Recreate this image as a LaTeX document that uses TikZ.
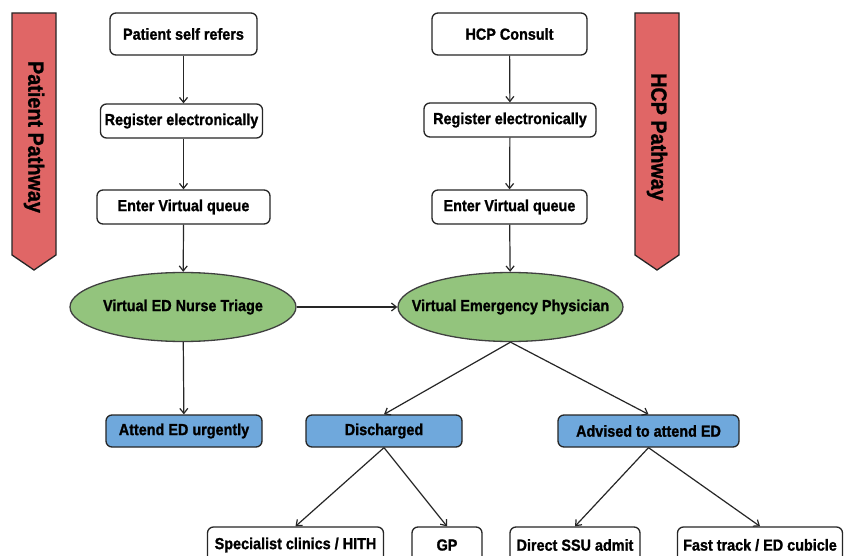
\documentclass[tikz,border=0pt]{standalone}
\usepackage{fontspec}
\setmainfont{Liberation Sans}
\newfontfamily\diafont{Liberation Sans Bold}[FakeStretch=0.9,FakeBold=1.2]
\usetikzlibrary{arrows.meta,shapes.geometric}
\definecolor{bannerred}{HTML}{E06666}
\definecolor{ovalgreen}{HTML}{93C47D}
\definecolor{boxblue}{HTML}{6FA8DC}
\tikzset{
  whitebox/.style={draw=black!85, line width=1.3pt, rounded corners=6pt, fill=white, inner sep=0pt, font=\diafont\fontsize{16}{18}\selectfont},
  bluebox/.style={whitebox, fill=boxblue},
  oval/.style={ellipse, draw=black!75, line width=1.3pt, fill=ovalgreen, inner sep=0pt, font=\diafont\fontsize{16}{18}\selectfont},
  banner/.style={draw=black!85, line width=1.3pt, fill=bannerred},
  bannertext/.style={rotate=-90, font=\diafont\fontsize{22}{24}\selectfont},
  conn/.style={draw=black!85, line width=1.2pt, -{Straight Barb[length=5pt,width=8pt,line width=1.2pt]}}
}
\begin{document}
\begin{tikzpicture}[x=1pt, y=-1pt]
\useasboundingbox (0,0) rectangle (844,556);
\fill[white] (0,0) rectangle (844,556);
% banners
\draw[banner] (12,13) -- (56,13) -- (56,255) -- (34,270) -- (12,255) -- cycle;
\node[bannertext] (lbanner) at (34,137) {Patient Pathway};
\draw[banner] (635,13) -- (679,13) -- (679,255) -- (657,270) -- (635,255) -- cycle;
\node[bannertext] (rbanner) at (657,137) {HCP Pathway};
% left column
\node[whitebox, minimum width=147pt, minimum height=42pt] (ps) at (183.5,34) {Patient self refers};
\node[whitebox, minimum width=162pt, minimum height=34pt] (reg1) at (181.5,121) {Register electronically};
\node[whitebox, minimum width=173pt, minimum height=34pt] (q1) at (183.5,207) {Enter Virtual queue};
% right column
\node[whitebox, minimum width=155pt, minimum height=42pt] (hcp) at (509.5,34) {HCP Consult};
\node[whitebox, minimum width=172pt, minimum height=34pt] (reg2) at (510,120) {Register electronically};
\node[whitebox, minimum width=155pt, minimum height=34pt] (q2) at (509.5,207) {Enter Virtual queue};
% ovals
\node[oval, minimum width=226pt, minimum height=69pt] (nurse) at (183,307) {\makebox[0pt]{Virtual ED Nurse Triage}};
\node[oval, minimum width=225pt, minimum height=69pt] (phys) at (510.5,307) {\makebox[0pt]{Virtual Emergency Physician}};
% blue boxes
\node[bluebox, minimum width=156pt, minimum height=32pt] (att) at (184,431) {Attend ED urgently};
\node[bluebox, minimum width=156pt, minimum height=32pt] (dis) at (384,431) {Discharged};
\node[bluebox, minimum width=181pt, minimum height=32pt] (adv) at (648.5,431) {Advised to attend ED};
% bottom boxes
\node[whitebox, minimum width=176pt, minimum height=36pt] (spec) at (295.5,545) {Specialist clinics / HITH};
\node[whitebox, minimum width=70pt, minimum height=36pt] (gp) at (447,545) {GP};
\node[whitebox, minimum width=130pt, minimum height=36pt] (ssu) at (575,545) {Direct SSU admit};
\node[whitebox, minimum width=165pt, minimum height=36pt] (fast) at (760,545) {Fast track / ED cubicle};
% connectors
\draw[conn] (ps) -- (reg1.north -| ps);
\draw[conn] (reg1.south -| ps) -- (q1.north -| ps);
\draw[conn] (q1.south -| ps) -- (nurse);
\draw[conn] (hcp) -- (reg2);
\draw[conn] (reg2) -- (q2);
\draw[conn] (q2) -- (phys);
\draw[conn] (nurse) -- (phys);
\draw[conn] (nurse) -- (att);
\draw[conn] (phys.south) -- (dis.north);
\draw[conn] (phys.south) -- (adv.north);
\draw[conn] (dis.south) -- (spec.north);
\draw[conn] (dis.south) -- (gp.north);
\draw[conn] (adv.south) -- (ssu.north);
\draw[conn] (adv.south) -- (fast.north);
\end{tikzpicture}
\end{document}
